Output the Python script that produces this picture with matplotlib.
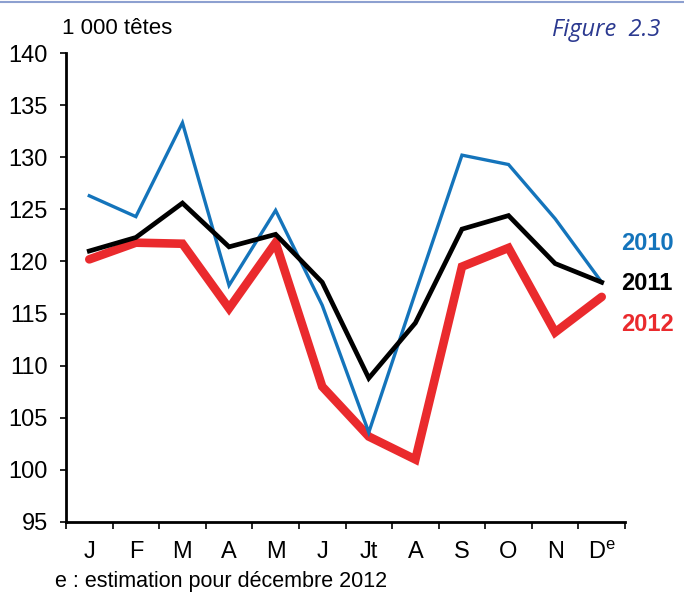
import matplotlib
matplotlib.use("Agg")
import matplotlib.pyplot as plt
from matplotlib import font_manager
import numpy as np

months = ["J", "F", "M", "A", "M", "J", "Jt", "A", "S", "O", "N", "D$^\\mathregular{e}$"]
y2010 = [126.3, 124.3, 133.3, 117.7, 124.9, 115.8, 103.6, 117.0, 130.2, 129.3, 124.1, 118.0]
y2011 = [121.0, 122.3, 125.6, 121.4, 122.6, 118.0, 108.8, 114.1, 123.1, 124.4, 119.8, 118.0]
y2012 = [120.2, 121.8, 121.7, 115.5, 121.8, 108.0, 103.2, 101.0, 119.5, 121.3, 113.2, 116.6]
series_names = ["2010", "2011", "2012"]
yticks = [95, 100, 105, 110, 115, 120, 125, 130, 135, 140]

names = {f.name for f in font_manager.fontManager.ttflist}
fam = "Liberation Sans Narrow" if "Liberation Sans Narrow" in names else "Liberation Sans"
plt.rcParams["font.family"] = [fam, "DejaVu Sans"]
plt.rcParams["mathtext.fontset"] = "custom"
plt.rcParams["mathtext.rm"] = fam

fig = plt.figure(figsize=(6.84, 5.97), dpi=100)
ax = fig.add_axes([66/684, 1-522/597, (625-66)/684, (522-53)/597])

x = np.arange(len(months)) + 0.5
blue = "#1474bb"
red = "#ea2a2d"
ax.plot(x, y2012, color=red, lw=6.2, solid_joinstyle="miter", solid_capstyle="round", zorder=2)
ax.plot(x, y2010, color=blue, lw=2.4, solid_joinstyle="miter", zorder=3)
ax.plot(x, y2011, color="black", lw=3.4, solid_joinstyle="miter", zorder=4)

ax.set_xlim(0, 12)
ax.set_ylim(95, 140)
ax.set_yticks(yticks)
ax.set_yticklabels([str(v) for v in yticks], fontsize=17)
ax.set_xticks(np.arange(13))
ax.set_xticklabels([])
ax.set_xticks(x, minor=True)
ax.set_xticklabels(months, minor=True, fontsize=17)
ax.tick_params(axis="x", which="minor", length=0, pad=14)
ax.tick_params(axis="x", which="major", length=5, width=1.2, direction="out")
ax.tick_params(axis="y", length=4, width=1.2, direction="out", pad=9)
for s in ["top", "right"]:
    ax.spines[s].set_visible(False)
for s in ["left", "bottom"]:
    ax.spines[s].set_linewidth(2)

# series labels
label_colors = [blue, "black", red]
label_y = [243, 284, 325]
for name, c, py in zip(series_names, label_colors, label_y):
    fig.text(621/684, 1-py/597, name, color=c, fontsize=17, fontweight="bold",
             ha="left", va="center")

fig.text(62/684, 1-28/597, "1 000 têtes", fontsize=16, ha="left", va="center")
fig.text(660/684, 1-30/597, "Figure  2.3", fontsize=17, style="italic",
         color="#2b3990", ha="right", va="center", family=["Open Sans", "DejaVu Sans"])
fig.text(55/684, 1-582/597, "e : estimation pour décembre 2012", fontsize=15.5,
         ha="left", va="center")
fig.add_artist(plt.Line2D([0, 1], [1-1.5/597, 1-1.5/597], color="#8da0d0", lw=1.5,
                          transform=fig.transFigure))

fig.savefig("out.png", dpi=100)
